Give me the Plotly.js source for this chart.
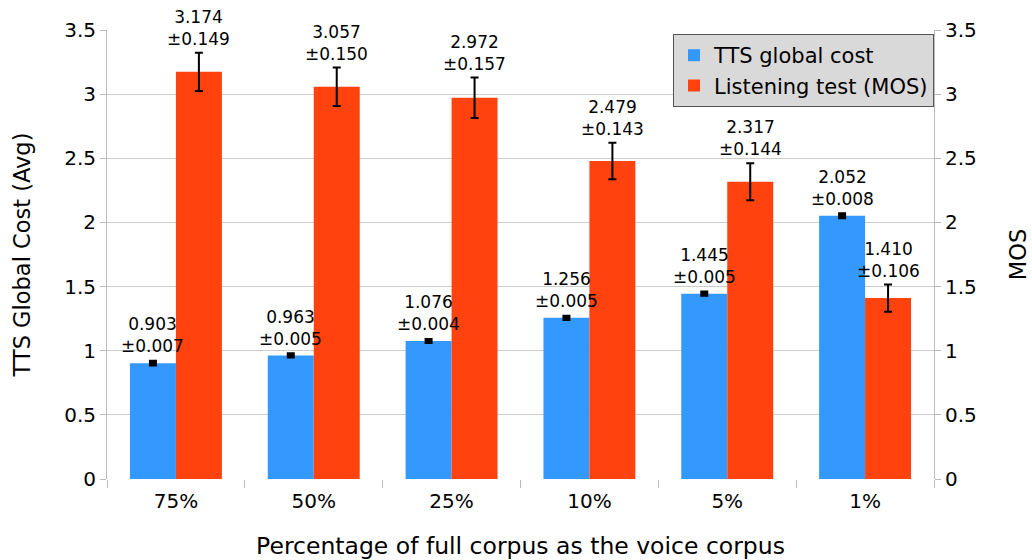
<!DOCTYPE html>
<html><head><meta charset="utf-8">
<script src="https://cdn.plot.ly/plotly-3.0.1.min.js"></script>
<style>html,body{margin:0;padding:0;background:#fff}#chart{width:1032px;height:560px}</style>
</head><body><div id="chart"></div>
<script>
var categories = ["75%", "50%", "25%", "10%", "5%", "1%"];
var ttsCost = [0.903, 0.963, 1.076, 1.256, 1.445, 2.052];
var ttsErr = [0.007, 0.005, 0.004, 0.005, 0.005, 0.008];
var mos = [3.174, 3.057, 2.972, 2.479, 2.317, 1.410];
var mosErr = [0.149, 0.150, 0.157, 0.143, 0.144, 0.106];
var yTicks = [0, 0.5, 1, 1.5, 2, 2.5, 3, 3.5];

var FONT = "DejaVu Sans, sans-serif";
var traces = [
  {type: "bar", name: "TTS global cost", x: categories, y: ttsCost,
   marker: {color: "#3399ff"}, yaxis: "y", offsetgroup: "a",
   error_y: {type: "data", array: ttsErr, visible: true, color: "#000", thickness: 5, width: 4}},
  {type: "bar", name: "Listening test (MOS)", x: categories, y: mos,
   marker: {color: "#ff420e"}, yaxis: "y2", offsetgroup: "b",
   error_y: {type: "data", array: mosErr, visible: true, color: "#000", thickness: 2, width: 4}}
];

var annotations = [];
function fmt(v){ return v.toFixed(3); }
for (var i = 0; i < categories.length; i++) {
  annotations.push({x: i - 0.1667, y: ttsCost[i] + ttsErr[i], xref: "x", yref: "y",
    text: fmt(ttsCost[i]) + "<br>±" + fmt(ttsErr[i]), showarrow: false,
    yanchor: "bottom", yshift: 4, font: {family: FONT, size: 17, color: "#000"}});
  annotations.push({x: i + 0.1667, y: mos[i] + mosErr[i], xref: "x", yref: "y2",
    text: fmt(mos[i]) + "<br>±" + fmt(mosErr[i]), showarrow: false,
    yanchor: "bottom", yshift: 2, font: {family: FONT, size: 17, color: "#000"}});
}

var yCommon = {range: [0, 3.5], tickvals: yTicks, ticktext: yTicks.map(String),
  ticks: "outside", ticklen: 6, tickcolor: "#bbbbbb", showline: true, linecolor: "#bbbbbb",
  tickfont: {family: FONT, size: 20, color: "#000"}, zeroline: false, fixedrange: true};

var layout = {
  width: 1032, height: 560,
  margin: {l: 107, r: 98, t: 30, b: 81},
  paper_bgcolor: "#fff", plot_bgcolor: "#fff",
  barmode: "group", bargap: 0.333, bargroupgap: 0,
  font: {family: FONT, color: "#000"},
  xaxis: {type: "category", tickson: "boundaries", ticks: "outside", ticklen: 8, tickcolor: "#bbbbbb",
    ticklabelstandoff: 8,
    showline: false, showgrid: false, tickfont: {family: FONT, size: 20, color: "#000"},
    title: {text: "Percentage of full corpus as the voice corpus", font: {family: FONT, size: 23.5, color: "#000"}, standoff: 25}},
  yaxis: Object.assign({}, yCommon, {showgrid: true, gridcolor: "#cccccc",
    title: {text: "TTS Global Cost (Avg)", font: {family: FONT, size: 22.5, color: "#000"}, standoff: 27}}),
  yaxis2: Object.assign({}, yCommon, {overlaying: "y", side: "right", showgrid: false,
    title: {text: "MOS", font: {family: FONT, size: 22.5, color: "#000"}, standoff: 34}}),
  legend: {x: 1, xanchor: "right", y: 0.991, yanchor: "top", bgcolor: "#d9d9d9",
    bordercolor: "#555555", borderwidth: 1, font: {family: FONT, size: 21, color: "#000"},
    tracegroupgap: 0, itemwidth: 30},
  annotations: annotations,
  showlegend: true
};
Plotly.newPlot("chart", traces, layout, {displayModeBar: false, staticPlot: true});
</script></body></html>
